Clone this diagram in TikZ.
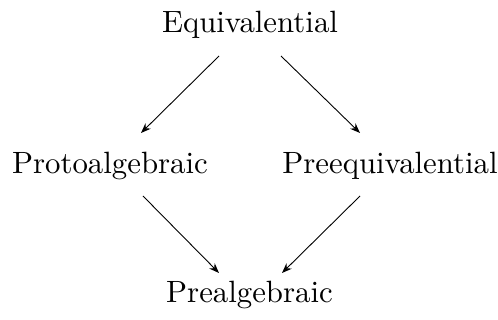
\documentclass[tikz,border=0pt]{standalone}
\usepackage{graphicx}
\usetikzlibrary{arrows.meta,calc}
\newcommand{\bigtxt}[1]{\scalebox{1.54}{\fontsize{10pt}{12pt}\selectfont #1}}
\begin{document}
\begin{tikzpicture}[x=0.5pt,y=-0.5pt,
  lbl/.style={anchor=base,inner sep=0pt},
  arr/.style={-{Stealth[length=5pt,width=3.8pt]},line width=0.45pt}]
\useasboundingbox (0,0) rectangle (498,320);
\node[lbl] (E) at (250,33) {\bigtxt{Equivalential}};
\node[lbl] (P) at (110,174) {\bigtxt{Protoalgebraic}};
\node[lbl] (Q) at (390,174) {\bigtxt{Preequivalential}};
\node[lbl] (R) at (249.5,303) {\bigtxt{Prealgebraic}};
\draw[arr] ($(E.base)+(-31,23)$) -- ($(P.base)+(31,-41)$);
\draw[arr] ($(E.base)+(31,23)$) -- ($(Q.base)+(-30,-41)$);
\draw[arr] ($(P.base)+(33,22)$) -- ($(R.base)+(-30.5,-30)$);
\draw[arr] ($(Q.base)+(-30,22)$) -- ($(R.base)+(32.5,-30)$);
\end{tikzpicture}
\end{document}
